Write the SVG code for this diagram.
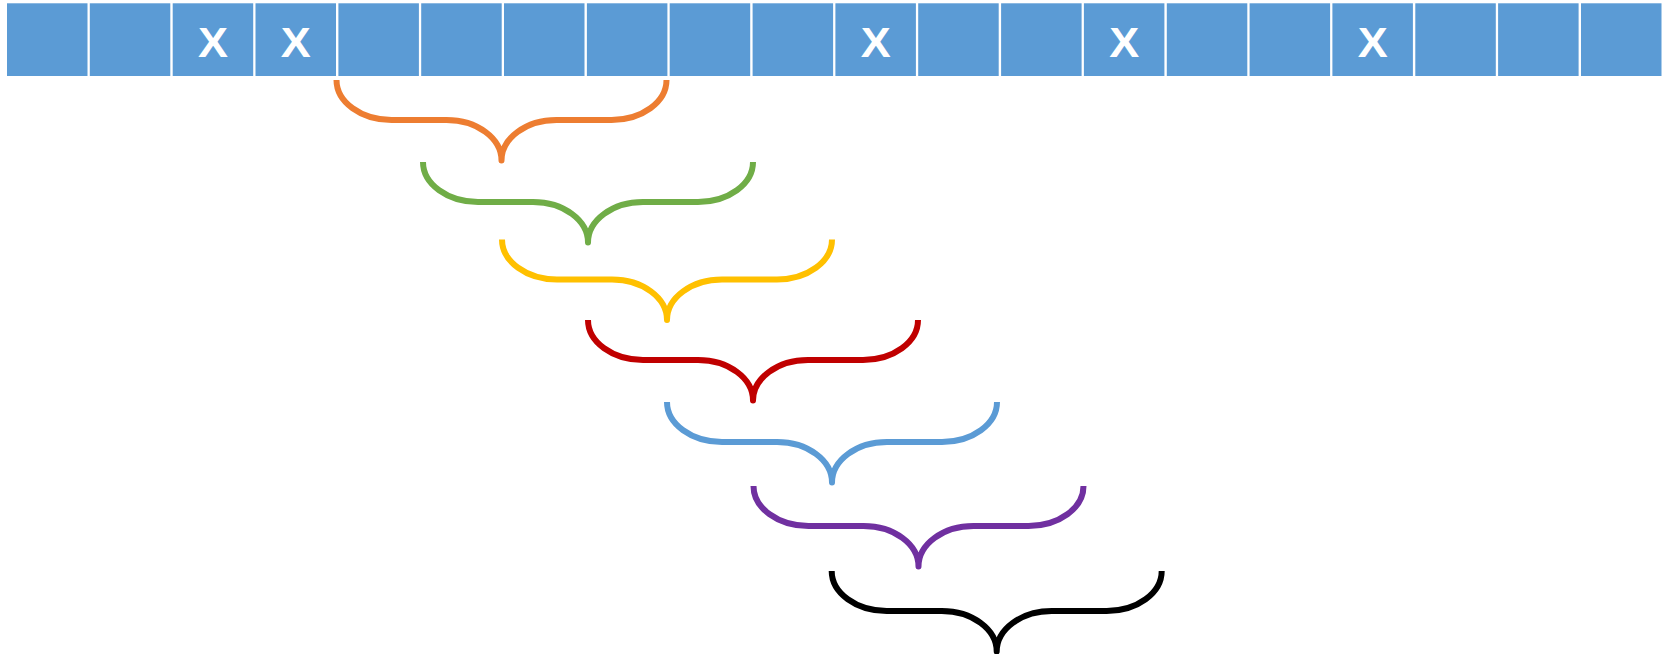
<svg xmlns="http://www.w3.org/2000/svg" xmlns:xlink="http://www.w3.org/1999/xlink" width="1667" height="654" viewBox="0 0 1667 654">
<style>
.cell{fill:#5B9BD5;}
.x{font-family:"Liberation Sans",Arial,sans-serif;font-weight:bold;font-size:43px;fill:#FFFFFF;text-anchor:middle;}
.brace{fill:none;stroke-width:6;stroke-linecap:butt;stroke-linejoin:round;}
</style>
<defs>
<path id="br" d="M0,0 A55 40 0 0 0 55,40 H110 A55 40.5 0 0 1 165,80.5 A55 40.5 0 0 1 220,40 H275 A55 40 0 0 0 330,0"/>
</defs>
<rect width="1667" height="654" fill="#FFFFFF"/>
<g id="cells">
<g id="c0"><rect class="cell" x="7" y="3.3" width="80.5" height="72.7"/></g>
<g id="c1"><rect class="cell" x="89.8" y="3.3" width="80.5" height="72.7"/></g>
<g id="c2"><rect class="cell" x="172.7" y="3.3" width="80.5" height="72.7"/><text class="x" x="212.9" y="57.3" textLength="30" lengthAdjust="spacingAndGlyphs">X</text></g>
<g id="c3"><rect class="cell" x="255.5" y="3.3" width="80.5" height="72.7"/><text class="x" x="295.8" y="57.3" textLength="30" lengthAdjust="spacingAndGlyphs">X</text></g>
<g id="c4"><rect class="cell" x="338.4" y="3.3" width="80.5" height="72.7"/></g>
<g id="c5"><rect class="cell" x="421.2" y="3.3" width="80.5" height="72.7"/></g>
<g id="c6"><rect class="cell" x="504" y="3.3" width="80.5" height="72.7"/></g>
<g id="c7"><rect class="cell" x="586.9" y="3.3" width="80.5" height="72.7"/></g>
<g id="c8"><rect class="cell" x="669.7" y="3.3" width="80.5" height="72.7"/></g>
<g id="c9"><rect class="cell" x="752.6" y="3.3" width="80.5" height="72.7"/></g>
<g id="c10"><rect class="cell" x="835.4" y="3.3" width="80.5" height="72.7"/><text class="x" x="875.7" y="57.3" textLength="30" lengthAdjust="spacingAndGlyphs">X</text></g>
<g id="c11"><rect class="cell" x="918.2" y="3.3" width="80.5" height="72.7"/></g>
<g id="c12"><rect class="cell" x="1001.1" y="3.3" width="80.5" height="72.7"/></g>
<g id="c13"><rect class="cell" x="1083.9" y="3.3" width="80.5" height="72.7"/><text class="x" x="1124.2" y="57.3" textLength="30" lengthAdjust="spacingAndGlyphs">X</text></g>
<g id="c14"><rect class="cell" x="1166.8" y="3.3" width="80.5" height="72.7"/></g>
<g id="c15"><rect class="cell" x="1249.6" y="3.3" width="80.5" height="72.7"/></g>
<g id="c16"><rect class="cell" x="1332.4" y="3.3" width="80.5" height="72.7"/><text class="x" x="1372.7" y="57.3" textLength="30" lengthAdjust="spacingAndGlyphs">X</text></g>
<g id="c17"><rect class="cell" x="1415.3" y="3.3" width="80.5" height="72.7"/></g>
<g id="c18"><rect class="cell" x="1498.1" y="3.3" width="80.5" height="72.7"/></g>
<g id="c19"><rect class="cell" x="1581" y="3.3" width="80.5" height="72.7"/></g>
</g>
<g id="connectors">
<use xlink:href="#br" class="brace" stroke="#ED7D31" transform="translate(336.5,80)"/>
<use xlink:href="#br" class="brace" stroke="#70AD47" transform="translate(423,162)"/>
<use xlink:href="#br" class="brace" stroke="#FFC000" transform="translate(502,239.5)"/>
<use xlink:href="#br" class="brace" stroke="#C00000" transform="translate(588,320)"/>
<use xlink:href="#br" class="brace" stroke="#5B9BD5" transform="translate(667,402)"/>
<use xlink:href="#br" class="brace" stroke="#7030A0" transform="translate(753.5,486)"/>
<use xlink:href="#br" class="brace" stroke="#000000" transform="translate(831.7,571)"/>
</g>
</svg>
